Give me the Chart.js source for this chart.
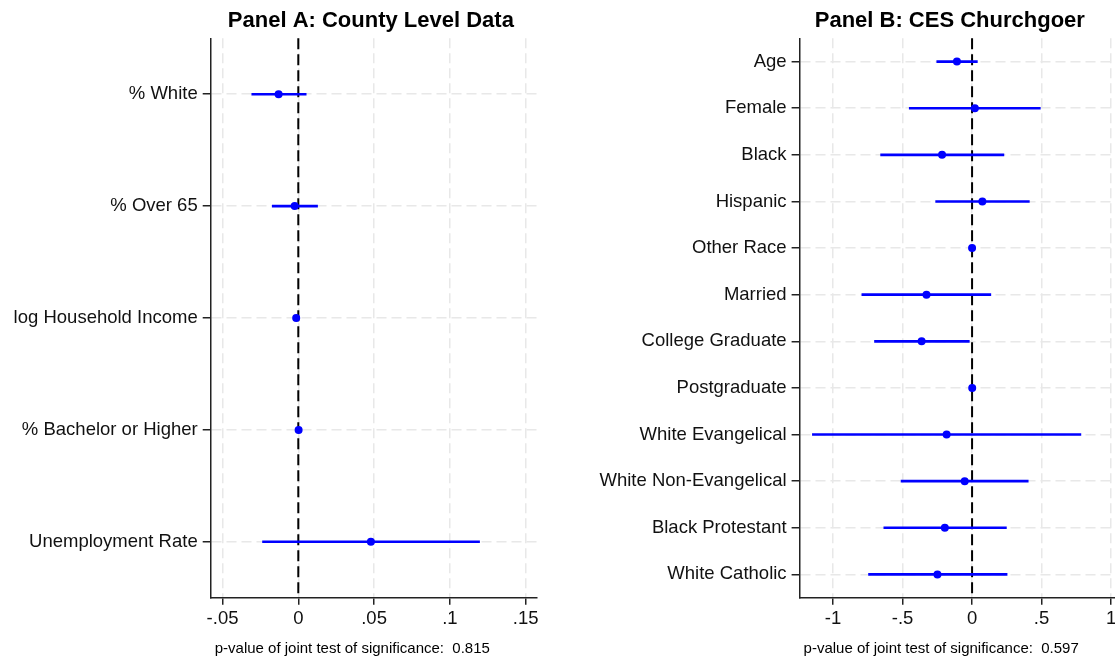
<!DOCTYPE html>
<html lang="en">
<head>
<meta charset="UTF-8">
<title>Coefficient plots</title>
<script src="https://cdn.jsdelivr.net/npm/chart.js@4/dist/chart.umd.min.js"></script>
<style>
  html, body { margin:0; padding:0; background:#fff; overflow:hidden; width:1115px; height:661px; }
  canvas { position:absolute; top:0; }
  #chartA { left:0; }
  #chartB { left:560px; }
</style>
</head>
<body>
<canvas id="chartA" width="545" height="661"></canvas>
<canvas id="chartB" width="570" height="661"></canvas>
<script>
// Panel A: county level data
const catsA = ['% White', '% Over 65', 'log Household Income', '% Bachelor or Higher', 'Unemployment Rate'];
const estA  = [-0.0130, -0.0024, -0.0014, 0.0002, 0.0479];
const lowA  = [-0.0307, -0.0172, -0.0016, 0.0000, -0.0236];
const highA = [0.0052, 0.0127, -0.0012, 0.0004, 0.1196];
const xTicksA = [-0.05, 0, 0.05, 0.1, 0.15];
const xLabelsA = ['-.05', '0', '.05', '.1', '.15'];

// Panel B: CES churchgoer
const catsB = ['Age', 'Female', 'Black', 'Hispanic', 'Other Race', 'Married', 'College Graduate',
  'Postgraduate', 'White Evangelical', 'White Non-Evangelical', 'Black Protestant', 'White Catholic'];
const estB  = [-0.109, 0.020, -0.216, 0.074, 0.000, -0.328, -0.363, 0.001, -0.183, -0.053, -0.196, -0.249];
const lowB  = [-0.254, -0.452, -0.658, -0.262, -0.006, -0.793, -0.702, -0.005, -1.149, -0.511, -0.635, -0.745];
const highB = [0.038, 0.491, 0.229, 0.412, 0.006, 0.135, -0.020, 0.007, 0.783, 0.404, 0.247, 0.252];
const xTicksB = [-1, -0.5, 0, 0.5, 1];
const xLabelsB = ['-1', '-.5', '0', '.5', '1'];

const FONT = 'Liberation Sans, Arial, Helvetica, sans-serif';
const BLUE = '#0000ff';

// dashed reference line at zero + panel title + footnote
const panelDeco = {
  id: 'panelDeco',
  beforeDatasetsDraw(chart, args, o) {
    const ctx = chart.ctx, a = chart.chartArea;
    const x0 = chart.scales.x.getPixelForValue(0);
    ctx.save();
    ctx.strokeStyle = '#000';
    ctx.lineWidth = 2;
    ctx.setLineDash([11, 5]);
    ctx.beginPath();
    ctx.moveTo(x0, a.top);
    ctx.lineTo(x0, a.bottom);
    ctx.stroke();
    ctx.restore();
  },
  afterDraw(chart, args, o) {
    const ctx = chart.ctx, a = chart.chartArea;
    ctx.save();
    ctx.fillStyle = '#000';
    ctx.font = 'bold 22px ' + FONT;
    ctx.textAlign = 'center';
    ctx.textBaseline = 'middle';
    ctx.fillText(o.title, (a.left + a.right) / 2 + o.titleShift, 21);
    ctx.font = '15px ' + FONT;
    ctx.textAlign = 'left';
    ctx.fillText(o.note, a.left + 4, 649);
    ctx.restore();
  }
};

function makePanel(id, cats, est, low, high, xmin, xmax, ticks, tickLabels, yWidth, padRight, title, titleShift, note) {
  new Chart(document.getElementById(id), {
    data: {
      labels: cats,
      datasets: [
        {
          type: 'bar',
          data: cats.map((c, i) => [low[i], high[i]]),
          backgroundColor: BLUE,
          borderWidth: 0,
          barThickness: 2,
          order: 2
        },
        {
          type: 'line',
          data: est,
          showLine: false,
          pointRadius: 4,
          pointBackgroundColor: BLUE,
          pointBorderWidth: 0,
          order: 1
        }
      ]
    },
    options: {
      indexAxis: 'y',
      responsive: false,
      animation: false,
      devicePixelRatio: 1,
      layout: { padding: { top: 38.3, right: padRight, left: 0, bottom: 0 } },
      plugins: {
        legend: { display: false },
        tooltip: { enabled: false },
        panelDeco: { title: title, titleShift: titleShift, note: note }
      },
      scales: {
        x: {
          type: 'linear',
          min: xmin,
          max: xmax,
          afterBuildTicks: (s) => { s.ticks = ticks.map(v => ({ value: v })); },
          afterFit: (s) => { s.height = 63.3; },
          ticks: {
            callback: (v) => tickLabels[ticks.indexOf(v)],
            color: '#111',
            font: { family: FONT, size: 18.5 },
            padding: 3,
            maxRotation: 0,
            autoSkip: false
          },
          grid: {
            color: '#e8e8e8',
            lineWidth: 1.5,
            tickColor: '#222',
            tickLength: 7,
            drawTicks: true
          },
          border: { display: true, color: '#222', width: 1.5, dash: [10, 5] }
        },
        y: {
          type: 'category',
          offset: true,
          afterFit: (s) => { s.width = yWidth; },
          ticks: {
            color: '#111',
            font: { family: FONT, size: 18.5 },
            padding: 5,
            autoSkip: false
          },
          grid: {
            offset: false,
            color: '#e8e8e8',
            lineWidth: 1.5,
            tickColor: '#222',
            tickLength: 8,
            drawTicks: true
          },
          border: { display: true, color: '#222', width: 1.5, dash: [10, 5] }
        }
      }
    },
    plugins: [panelDeco]
  });
}

makePanel('chartA', catsA, estA, lowA, highA, -0.0578, 0.1575, xTicksA, xLabelsA,
  210.7, 8, 'Panel A: County Level Data', -3, 'p-value of joint test of significance:  0.815');
makePanel('chartB', catsB, estB, lowB, highB, -1.241, 1.05, xTicksB, xLabelsB,
  239.6, 12, 'Panel B: CES Churchgoer', -9, 'p-value of joint test of significance:  0.597');
</script>
</body>
</html>
